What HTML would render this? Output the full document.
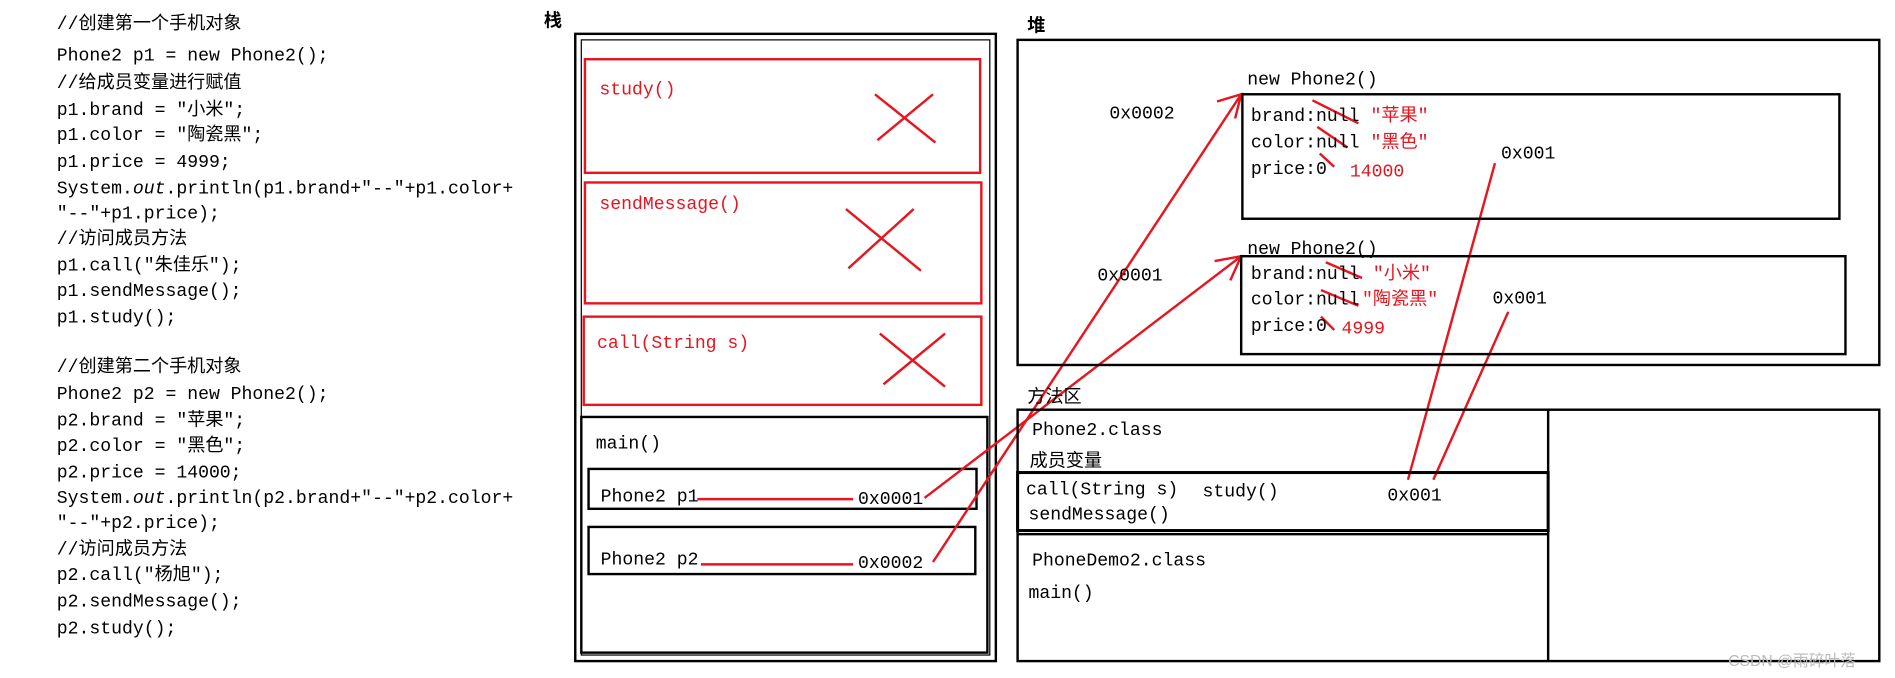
<!DOCTYPE html>
<html><head><meta charset="utf-8"><style>
html,body{margin:0;padding:0;background:#fff;width:1895px;height:678px;overflow:hidden}
text{font-family:"Liberation Mono","Noto Sans CJK SC",monospace;font-size:15px;fill:#000}
.r{fill:#e8141e}
</style></head><body>
<svg width="1895" height="678" viewBox="0 0 1568 561" preserveAspectRatio="none" xmlns="http://www.w3.org/2000/svg">
<g>
<text x="47" y="24">//创建第一个手机对象</text>
<text x="47" y="50">Phone2 p1 = new Phone2();</text>
<text x="47" y="73">//给成员变量进行赋值</text>
<text x="47" y="95">p1.brand = "小米";</text>
<text x="47" y="116">p1.color = "陶瓷黑";</text>
<text x="47" y="138">p1.price = 4999;</text>
<text x="47" y="160">System.<tspan font-style="italic">out</tspan>.println(p1.brand+"--"+p1.color+</text>
<text x="47" y="181">"--"+p1.price);</text>
<text x="47" y="202">//访问成员方法</text>
<text x="47" y="224">p1.call("朱佳乐");</text>
<text x="47" y="245">p1.sendMessage();</text>
<text x="47" y="267">p1.study();</text>
<text x="47" y="308">//创建第二个手机对象</text>
<text x="47" y="330">Phone2 p2 = new Phone2();</text>
<text x="47" y="352">p2.brand = "苹果";</text>
<text x="47" y="373">p2.color = "黑色";</text>
<text x="47" y="395">p2.price = 14000;</text>
<text x="47" y="416">System.<tspan font-style="italic">out</tspan>.println(p2.brand+"--"+p2.color+</text>
<text x="47" y="437">"--"+p2.price);</text>
<text x="47" y="459">//访问成员方法</text>
<text x="47" y="480">p2.call("杨旭");</text>
<text x="47" y="502">p2.sendMessage();</text>
<text x="47" y="524">p2.study();</text>
</g>
<!-- stack -->
<text x="450" y="22" font-weight="bold">栈</text>
<rect x="476" y="28" width="348" height="519" fill="none" stroke="#000" stroke-width="2"/>
<rect x="481" y="33" width="338" height="509" fill="none" stroke="#000" stroke-width="1"/>
<g fill="none" stroke="#e8141e" stroke-width="2">
<rect x="484" y="49" width="327" height="94"/>
<rect x="484" y="151" width="328" height="100"/>
<rect x="483" y="262" width="329" height="73"/>
<path d="M724 78 L774 118 M772 78 L726 116"/>
<path d="M700 173 L762 224 M756 173 L702 222"/>
<path d="M728 276 L782 320 M782 276 L731 318"/>
</g>
<text class="r" x="496" y="78">study()</text>
<text class="r" x="496" y="173">sendMessage()</text>
<text class="r" x="494" y="288">call(String s)</text>
<rect x="481" y="345" width="336" height="195" fill="none" stroke="#000" stroke-width="2"/>
<text x="493" y="371">main()</text>
<rect x="487" y="388" width="321" height="33" fill="none" stroke="#000" stroke-width="2"/>
<text x="497" y="415">Phone2 p1</text>
<text x="710" y="417">0x0001</text>
<rect x="487" y="436" width="320" height="39" fill="none" stroke="#000" stroke-width="2"/>
<text x="497" y="467">Phone2 p2</text>
<text x="710" y="470">0x0002</text>
<g stroke="#e8141e" stroke-width="2" fill="none">
<path d="M577 413 H706 M580 467 H706"/>
<path d="M765 412 L1027 212 M1005 216 L1027 212 L1018 232"/>
<path d="M772 465 L1027 78 M1007 84 L1027 78 L1022 98"/>
<path d="M1165 397 L1237 135 M1186 397 L1248 258"/>
<path d="M1086 83 L1124 102 M1090 105 L1115 122 M1092 127 L1104 138"/>
<path d="M1097 217 L1127 230 M1093 240 L1124 253 M1093 262 L1104 273"/>
</g>
<!-- heap -->
<text x="850" y="26" font-weight="bold">堆</text>
<rect x="842" y="33" width="713" height="269" fill="none" stroke="#000" stroke-width="2"/>
<text x="1032" y="70">new Phone2()</text>
<rect x="1028" y="78" width="494" height="103" fill="none" stroke="#000" stroke-width="2"/>
<text x="1035" y="100">brand:null</text><text class="r" x="1134" y="100">"苹果"</text>
<text x="1035" y="122">color:null</text><text class="r" x="1134" y="122">"黑色"</text>
<text x="1035" y="144">price:0</text><text class="r" x="1117" y="146">14000</text>
<text x="918" y="98">0x0002</text>
<text x="1242" y="131">0x001</text>
<text x="1032" y="210">new Phone2()</text>
<rect x="1027" y="212" width="500" height="81" fill="none" stroke="#000" stroke-width="2"/>
<text x="1035" y="231">brand:null</text><text class="r" x="1136" y="231">"小米"</text>
<text x="1035" y="252">color:null</text><text class="r" x="1127" y="252">"陶瓷黑"</text>
<text x="1035" y="274">price:0</text><text class="r" x="1110" y="276">4999</text>
<text x="908" y="232">0x0001</text>
<text x="1235" y="251">0x001</text>
<!-- method area -->
<text x="850" y="333">方法区</text>
<rect x="842" y="339" width="713" height="208" fill="none" stroke="#000" stroke-width="2"/>
<path d="M1281 339 V547" stroke="#000" stroke-width="2"/>
<text x="854" y="360">Phone2.class</text>
<text x="852" y="386">成员变量</text>
<rect x="842" y="391" width="439" height="48" fill="none" stroke="#000" stroke-width="2.5"/>
<path d="M842 442 H1281" stroke="#000" stroke-width="2"/>
<text x="849" y="409">call(String s)</text>
<text x="995" y="411">study()</text>
<text x="1148" y="414">0x001</text>
<text x="851" y="430">sendMessage()</text>
<text x="854" y="468">PhoneDemo2.class</text>
<text x="851" y="495">main()</text>
<text x="1430" y="551" style="fill:#bbb;font-family:'Liberation Sans','Noto Sans CJK SC',sans-serif;font-size:13px">CSDN @雨碎叶落</text>
</svg>
</body></html>
